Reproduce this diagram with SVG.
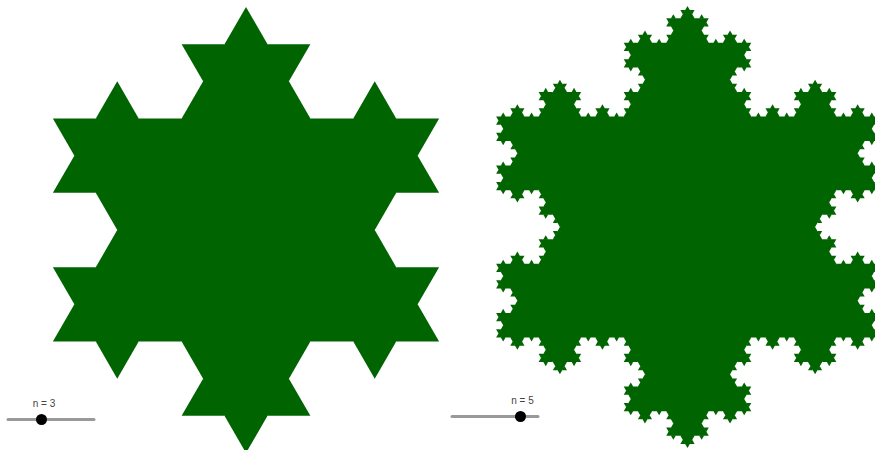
<svg xmlns="http://www.w3.org/2000/svg" xmlns:xlink="http://www.w3.org/1999/xlink" width="875" height="450" viewBox="0 0 875 450">
  <style>
    .k { fill: #006400; }
    .track { stroke: #999999; stroke-width: 3; stroke-linecap: round; }
    .knob { fill: #000000; }
    .lbl { font-family: "Liberation Sans", Arial, sans-serif; font-size: 10px; fill: #444444; text-anchor: middle; }
  </style>
  <defs>
    <polygon id="t" class="k" points="0.333333,0 0.5,-0.288675 0.666667,0 0.6,0.03 0.4,0.03"/>
    <g id="b1"><use href="#t"/></g>
    <g id="b2">
      <use href="#t"/>
      <use href="#b1" transform="scale(0.333333)"/>
      <use href="#b1" transform="translate(0.333333,0) rotate(-60) scale(0.333333)"/>
      <use href="#b1" transform="translate(0.5,-0.288675) rotate(60) scale(0.333333)"/>
      <use href="#b1" transform="translate(0.666667,0) scale(0.333333)"/>
    </g>
    <g id="b3">
      <use href="#t"/>
      <use href="#b2" transform="scale(0.333333)"/>
      <use href="#b2" transform="translate(0.333333,0) rotate(-60) scale(0.333333)"/>
      <use href="#b2" transform="translate(0.5,-0.288675) rotate(60) scale(0.333333)"/>
      <use href="#b2" transform="translate(0.666667,0) scale(0.333333)"/>
    </g>
    <g id="b4">
      <use href="#t"/>
      <use href="#b3" transform="scale(0.333333)"/>
      <use href="#b3" transform="translate(0.333333,0) rotate(-60) scale(0.333333)"/>
      <use href="#b3" transform="translate(0.5,-0.288675) rotate(60) scale(0.333333)"/>
      <use href="#b3" transform="translate(0.666667,0) scale(0.333333)"/>
    </g>
  </defs>

  <g id="snowflake-n3" transform="translate(246,230) scale(223)">
    <polygon class="k" points="0,-1 0.866025,0.5 -0.866025,0.5"/>
    <use href="#b2" transform="translate(0,-1) rotate(60) scale(1.732051)"/>
    <use href="#b2" transform="translate(0.866025,0.5) rotate(180) scale(1.732051)"/>
    <use href="#b2" transform="translate(-0.866025,0.5) rotate(-60) scale(1.732051)"/>
  </g>

  <g id="snowflake-n5" transform="translate(687.5,227) scale(221)">
    <polygon class="k" points="0,-1 0.866025,0.5 -0.866025,0.5"/>
    <use href="#b4" transform="translate(0,-1) rotate(60) scale(1.732051)"/>
    <use href="#b4" transform="translate(0.866025,0.5) rotate(180) scale(1.732051)"/>
    <use href="#b4" transform="translate(-0.866025,0.5) rotate(-60) scale(1.732051)"/>
  </g>

  <g id="slider-n3">
    <line class="track" x1="8" y1="419.5" x2="94" y2="419.5"/>
    <circle class="knob" cx="41.5" cy="419.5" r="5.5"/>
    <text class="lbl" x="44" y="407">n = 3</text>
  </g>

  <g id="slider-n5">
    <line class="track" x1="452" y1="416.5" x2="538" y2="416.5"/>
    <circle class="knob" cx="520.5" cy="416.5" r="5.5"/>
    <text class="lbl" x="522.5" y="404">n = 5</text>
  </g>
</svg>
